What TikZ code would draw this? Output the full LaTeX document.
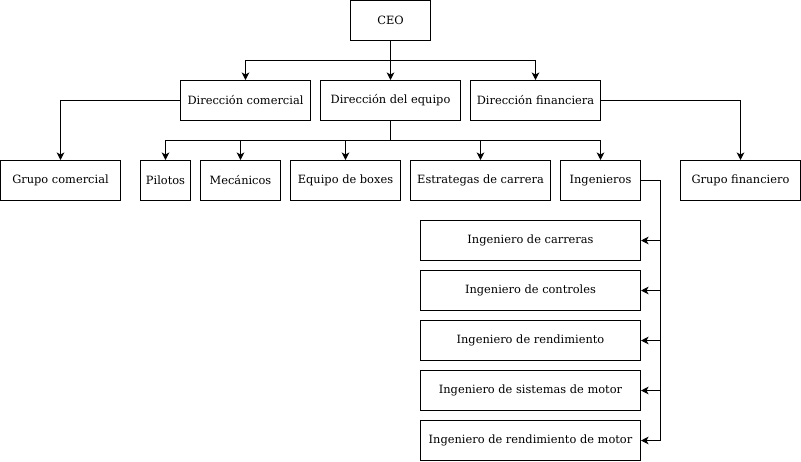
\documentclass[tikz,border=0pt]{standalone}
\usepackage{fontspec}
\setmainfont{DejaVu Serif}
\usetikzlibrary{arrows.meta}
\tikzset{
  box/.style={draw=black, line width=1pt, fill=white, inner sep=0pt, font=\fontsize{11.4}{13}\selectfont},
  arr/.style={line width=1pt, -{Stealth[length=7.5pt,width=7.5pt,inset=2pt]}},
  ln/.style={line width=1pt},
}
\begin{document}
\begin{tikzpicture}[x=1pt,y=-1pt]
\useasboundingbox (-0.5,-0.5) rectangle (800.5,460.5);
% row 1
\node[box, minimum width=80pt, minimum height=40pt] (ceo) at (390,20) {CEO};
% row 2
\node[box, minimum width=130pt, minimum height=40pt] (dc) at (245,100) {Dirección comercial};
\node[box, minimum width=140pt, minimum height=40pt] (de) at (390,100) {Dirección del equipo};
\node[box, minimum width=130pt, minimum height=40pt] (df) at (535,100) {Dirección financiera};
% row 3
\node[box, minimum width=120pt, minimum height=40pt] (gc) at (60,180) {Grupo comercial};
\node[box, minimum width=50pt, minimum height=40pt] (pil) at (165,180) {Pilotos};
\node[box, minimum width=80pt, minimum height=40pt] (mec) at (240,180) {Mecánicos};
\node[box, minimum width=110pt, minimum height=40pt] (eb) at (345,180) {Equipo de boxes};
\node[box, minimum width=140pt, minimum height=40pt] (ec) at (480,180) {Estrategas de carrera};
\node[box, minimum width=80pt, minimum height=40pt] (ing) at (600,180) {Ingenieros};
\node[box, minimum width=120pt, minimum height=40pt] (gf) at (740,180) {Grupo financiero};
% engineers
\node[box, minimum width=220pt, minimum height=40pt] (i1) at (530,240) {Ingeniero de carreras};
\node[box, minimum width=220pt, minimum height=40pt] (i2) at (530,290) {Ingeniero de controles};
\node[box, minimum width=220pt, minimum height=40pt] (i3) at (530,340) {Ingeniero de rendimiento};
\node[box, minimum width=220pt, minimum height=40pt] (i4) at (530,390) {Ingeniero de sistemas de motor};
\node[box, minimum width=220pt, minimum height=40pt] (i5) at (530,440) {Ingeniero de rendimiento de motor};
% connectors
\coordinate (b1) at (390,60);
\draw[arr] (ceo.south) -- (de.north);
\draw[arr] (b1) -| (dc.north);
\draw[arr] (b1) -| (df.north);
\draw[arr] (dc.west) -| (gc.north);
\draw[arr] (df.east) -| (gf.north);
\coordinate (b2) at (390,140);
\draw[ln] (de.south) -- (b2);
\draw[arr] (b2) -| (pil.north);
\draw[arr] (b2) -| (mec.north);
\draw[arr] (b2) -| (eb.north);
\draw[arr] (b2) -| (ec.north);
\draw[arr] (b2) -| (ing.north);
\coordinate (b3) at (660,180);
\draw[ln] (ing.east) -- (b3);
\draw[arr] (b3) |- (i1.east);
\draw[arr] (b3) |- (i2.east);
\draw[arr] (b3) |- (i3.east);
\draw[arr] (b3) |- (i4.east);
\draw[arr] (b3) |- (i5.east);
\end{tikzpicture}
\end{document}
